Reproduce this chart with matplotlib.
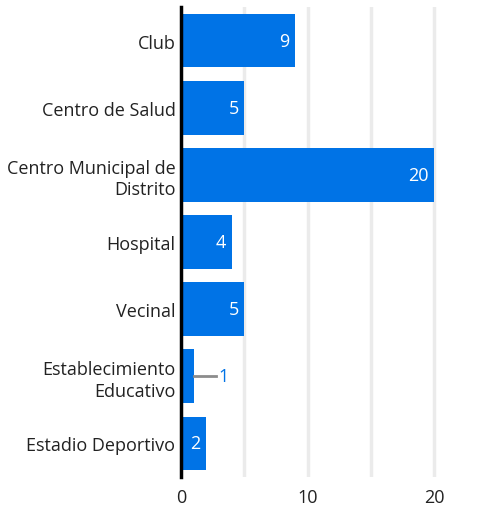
import matplotlib
matplotlib.use("Agg")
import matplotlib.pyplot as plt

categories = ["Club", "Centro de Salud", "Centro Municipal de\nDistrito", "Hospital",
              "Vecinal", "Establecimiento\nEducativo", "Estadio Deportivo"]
values = [9, 5, 20, 4, 5, 1, 2]
xticks = [0, 10, 20]
grid_ticks = [5, 10, 15, 20]

plt.rcParams['font.family'] = ['Open Sans', 'DejaVu Sans']
blue = "#0073e6"
fs = 13

fig = plt.figure(figsize=(4.96, 5.06), dpi=100)
ax = fig.add_axes([181/496, 1 - 478/506, (466-181)/496, (478-8)/506])

y = list(range(len(categories)))
ax.barh(y, values, height=0.8, color=blue, zorder=3)
ax.set_ylim(len(categories) - 0.5, -0.5)
ax.set_xlim(0, 22.5)

for gx in grid_ticks:
    ax.axvline(gx, color="#ebebeb", lw=2.5, zorder=1)

for yi, v in zip(y, values):
    if v >= 2:
        ax.text(v - 0.45, yi, str(v), color="white", ha="right", va="center",
                fontsize=fs, zorder=4)
    else:
        ax.plot([v + 0.05, v + 1.8], [yi, yi], color="#8c8c8c", lw=2, zorder=4)
        ax.text(v + 1.95, yi, str(v), color=blue, ha="left", va="center",
                fontsize=fs, zorder=4)

ax.set_yticks(y)
ax.set_yticklabels(categories, fontsize=fs, color="#222222", linespacing=1.25)
ax.set_xticks(xticks)
ax.set_xticklabels([str(t) for t in xticks], fontsize=fs, color="#222222")
ax.tick_params(axis="both", length=0)
ax.tick_params(axis="x", pad=8)
ax.tick_params(axis="y", pad=4)

for s in ["top", "right", "bottom"]:
    ax.spines[s].set_visible(False)
ax.spines["left"].set_linewidth(2.5)
ax.spines["left"].set_color("black")
ax.spines["left"].set_zorder(5)

fig.savefig("out.png", dpi=100)
